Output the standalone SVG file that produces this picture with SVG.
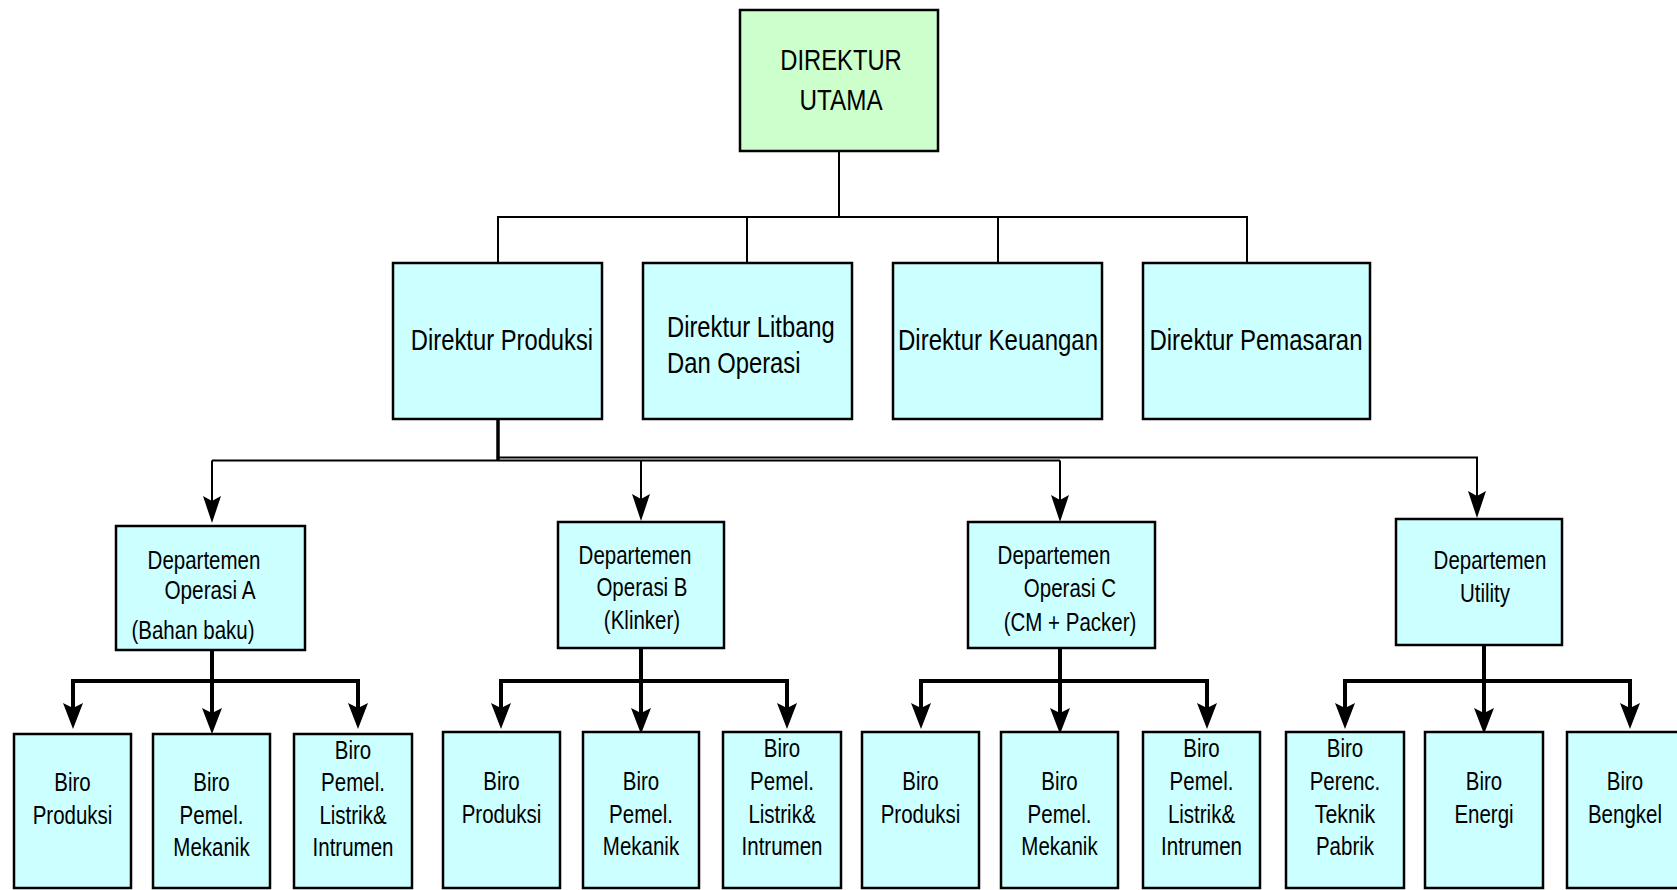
<svg xmlns="http://www.w3.org/2000/svg" width="1677" height="890" viewBox="0 0 1677 890">
<style>
.box{fill:#ccffff;stroke:#000;stroke-width:2.5}
.green{fill:#ccffcc}
text{font-family:"Liberation Sans",Arial,sans-serif;fill:#000}
.t29{font-size:29px}
.t25{font-size:25px}
.c{text-anchor:middle}
.thin{stroke:#000;stroke-width:2;fill:none}
.thick{stroke:#000;stroke-width:4;fill:none;stroke-linejoin:miter}
</style>
<defs>
<marker id="ah" markerUnits="userSpaceOnUse" markerWidth="32" markerHeight="24" viewBox="-28 -12 32 24" refX="-6" refY="0" orient="auto">
<path d="M0,0 L-27,-9 L-22,0 L-27,9 Z" fill="#000"/>
</marker>
<marker id="ahb" markerUnits="userSpaceOnUse" markerWidth="32" markerHeight="26" viewBox="-28 -13 32 26" refX="-6" refY="0" orient="auto">
<path d="M0,0 L-26,-10 L-21,0 L-26,10 Z" fill="#000"/>
</marker>
</defs>

<g id="connectors">
<path class="thin" d="M839,152 V217"/>
<path class="thin" d="M498,263 V217 H1247 V263"/>
<path class="thin" d="M747,217 V263"/>
<path class="thin" d="M998,217 V263"/>
<path class="thick" d="M498,416 V461" style="stroke-width:3.5"/>
<path class="thin" d="M212,460.5 H1060" />
<path class="thin" d="M212,460.5 V517" marker-end="url(#ah)"/>
<path class="thin" d="M641,460.5 V515" marker-end="url(#ah)"/>
<path class="thin" d="M1060,460.5 V516" marker-end="url(#ah)"/>
<path class="thin" d="M498,457.5 H1477 V512" marker-end="url(#ah)"/>

<path class="thick" d="M73,723 V681 H358 V723"/>
<path class="thick" d="M73,681 V723" marker-end="url(#ahb)"/>
<path class="thick" d="M358,681 V723" marker-end="url(#ahb)"/>
<path class="thick" d="M212,650 V728" marker-end="url(#ahb)"/>

<path class="thick" d="M501,723 V681 H787 V723"/>
<path class="thick" d="M501,681 V723" marker-end="url(#ahb)"/>
<path class="thick" d="M787,681 V723" marker-end="url(#ahb)"/>
<path class="thick" d="M641,648 V728" marker-end="url(#ahb)"/>

<path class="thick" d="M921,723 V681 H1207 V723"/>
<path class="thick" d="M921,681 V723" marker-end="url(#ahb)"/>
<path class="thick" d="M1207,681 V723" marker-end="url(#ahb)"/>
<path class="thick" d="M1060,648 V728" marker-end="url(#ahb)"/>

<path class="thick" d="M1345,723 V681 H1630 V723"/>
<path class="thick" d="M1345,681 V723" marker-end="url(#ahb)"/>
<path class="thick" d="M1630,681 V723" marker-end="url(#ahb)"/>
<path class="thick" d="M1484,645 V728" marker-end="url(#ahb)"/>
</g>

<g id="direktur-utama">
<rect class="box green" x="740" y="10" width="198" height="141"/>
<text class="t29 c" x="841" y="70" textLength="121.5" lengthAdjust="spacingAndGlyphs">DIREKTUR</text>
<text class="t29 c" x="841" y="110" textLength="83.2" lengthAdjust="spacingAndGlyphs">UTAMA</text>
</g>

<g id="direktur-produksi">
<rect class="box" x="393" y="263" width="209" height="156"/>
<text class="t29 c" x="502" y="350" textLength="182.3" lengthAdjust="spacingAndGlyphs">Direktur Produksi</text>
</g>
<g id="direktur-litbang">
<rect class="box" x="643" y="263" width="209" height="156"/>
<text class="t29" x="667" y="337" textLength="167.8" lengthAdjust="spacingAndGlyphs">Direktur Litbang</text>
<text class="t29" x="667" y="373" textLength="133.5" lengthAdjust="spacingAndGlyphs">Dan Operasi</text>
</g>
<g id="direktur-keuangan">
<rect class="box" x="893" y="263" width="209" height="156"/>
<text class="t29 c" x="998" y="350" textLength="200" lengthAdjust="spacingAndGlyphs">Direktur Keuangan</text>
</g>
<g id="direktur-pemasaran">
<rect class="box" x="1143" y="263" width="227" height="156"/>
<text class="t29 c" x="1256" y="350" textLength="213" lengthAdjust="spacingAndGlyphs">Direktur Pemasaran</text>
</g>

<g id="dept-a">
<rect class="box" x="116" y="526" width="189" height="124"/>
<text class="t25 c" x="204" y="569" textLength="112.8" lengthAdjust="spacingAndGlyphs">Departemen</text>
<text class="t25 c" x="210" y="599" textLength="91.1" lengthAdjust="spacingAndGlyphs">Operasi A</text>
<text class="t25 c" x="193" y="639" textLength="123.1" lengthAdjust="spacingAndGlyphs">(Bahan baku)</text>
</g>
<g id="dept-b">
<rect class="box" x="558" y="522" width="166" height="126"/>
<text class="t25 c" x="635" y="564" textLength="112.8" lengthAdjust="spacingAndGlyphs">Departemen</text>
<text class="t25 c" x="642" y="596" textLength="91.1" lengthAdjust="spacingAndGlyphs">Operasi B</text>
<text class="t25 c" x="642" y="629" textLength="76.3" lengthAdjust="spacingAndGlyphs">(Klinker)</text>
</g>
<g id="dept-c">
<rect class="box" x="968" y="522" width="187" height="126"/>
<text class="t25 c" x="1054" y="564" textLength="112.8" lengthAdjust="spacingAndGlyphs">Departemen</text>
<text class="t25 c" x="1070" y="597" textLength="92.3" lengthAdjust="spacingAndGlyphs">Operasi C</text>
<text class="t25 c" x="1070" y="631" textLength="132.7" lengthAdjust="spacingAndGlyphs">(CM + Packer)</text>
</g>
<g id="dept-utility">
<rect class="box" x="1396" y="519" width="166" height="126"/>
<text class="t25 c" x="1490" y="569" textLength="112.8" lengthAdjust="spacingAndGlyphs">Departemen</text>
<text class="t25 c" x="1485" y="602" textLength="50.1" lengthAdjust="spacingAndGlyphs">Utility</text>
</g>

<g id="a-biro-produksi">
<rect class="box" x="14" y="734" width="117" height="154"/>
<text class="t25 c" x="72.5" y="791" textLength="36.4" lengthAdjust="spacingAndGlyphs">Biro</text>
<text class="t25 c" x="72.5" y="824" textLength="79.7" lengthAdjust="spacingAndGlyphs">Produksi</text>
</g>
<g id="a-biro-mekanik">
<rect class="box" x="153" y="734" width="117" height="154"/>
<text class="t25 c" x="211.5" y="791" textLength="36.4" lengthAdjust="spacingAndGlyphs">Biro</text>
<text class="t25 c" x="211.5" y="824" textLength="63.8" lengthAdjust="spacingAndGlyphs">Pemel.</text>
<text class="t25 c" x="211.5" y="856" textLength="76.3" lengthAdjust="spacingAndGlyphs">Mekanik</text>
</g>
<g id="a-biro-listrik">
<rect class="box" x="294" y="734" width="118" height="154"/>
<text class="t25 c" x="353" y="759" textLength="36.4" lengthAdjust="spacingAndGlyphs">Biro</text>
<text class="t25 c" x="353" y="791" textLength="63.8" lengthAdjust="spacingAndGlyphs">Pemel.</text>
<text class="t25 c" x="353" y="824" textLength="67.2" lengthAdjust="spacingAndGlyphs">Listrik&amp;</text>
<text class="t25 c" x="353" y="856" textLength="80.9" lengthAdjust="spacingAndGlyphs">Intrumen</text>
</g>

<g id="b-biro-produksi">
<rect class="box" x="443" y="732" width="117" height="156"/>
<text class="t25 c" x="501.5" y="790" textLength="36.4" lengthAdjust="spacingAndGlyphs">Biro</text>
<text class="t25 c" x="501.5" y="823" textLength="79.7" lengthAdjust="spacingAndGlyphs">Produksi</text>
</g>
<g id="b-biro-mekanik">
<rect class="box" x="583" y="732" width="116" height="156"/>
<text class="t25 c" x="641" y="790" textLength="36.4" lengthAdjust="spacingAndGlyphs">Biro</text>
<text class="t25 c" x="641" y="823" textLength="63.8" lengthAdjust="spacingAndGlyphs">Pemel.</text>
<text class="t25 c" x="641" y="855" textLength="76.3" lengthAdjust="spacingAndGlyphs">Mekanik</text>
</g>
<g id="b-biro-listrik">
<rect class="box" x="723" y="732" width="118" height="156"/>
<text class="t25 c" x="782" y="757" textLength="36.4" lengthAdjust="spacingAndGlyphs">Biro</text>
<text class="t25 c" x="782" y="790" textLength="63.8" lengthAdjust="spacingAndGlyphs">Pemel.</text>
<text class="t25 c" x="782" y="823" textLength="67.2" lengthAdjust="spacingAndGlyphs">Listrik&amp;</text>
<text class="t25 c" x="782" y="855" textLength="80.9" lengthAdjust="spacingAndGlyphs">Intrumen</text>
</g>

<g id="c-biro-produksi">
<rect class="box" x="862" y="732" width="117" height="156"/>
<text class="t25 c" x="920.5" y="790" textLength="36.4" lengthAdjust="spacingAndGlyphs">Biro</text>
<text class="t25 c" x="920.5" y="823" textLength="79.7" lengthAdjust="spacingAndGlyphs">Produksi</text>
</g>
<g id="c-biro-mekanik">
<rect class="box" x="1001" y="732" width="117" height="156"/>
<text class="t25 c" x="1059.5" y="790" textLength="36.4" lengthAdjust="spacingAndGlyphs">Biro</text>
<text class="t25 c" x="1059.5" y="823" textLength="63.8" lengthAdjust="spacingAndGlyphs">Pemel.</text>
<text class="t25 c" x="1059.5" y="855" textLength="76.3" lengthAdjust="spacingAndGlyphs">Mekanik</text>
</g>
<g id="c-biro-listrik">
<rect class="box" x="1143" y="732" width="117" height="156"/>
<text class="t25 c" x="1201.5" y="757" textLength="36.4" lengthAdjust="spacingAndGlyphs">Biro</text>
<text class="t25 c" x="1201.5" y="790" textLength="63.8" lengthAdjust="spacingAndGlyphs">Pemel.</text>
<text class="t25 c" x="1201.5" y="823" textLength="67.2" lengthAdjust="spacingAndGlyphs">Listrik&amp;</text>
<text class="t25 c" x="1201.5" y="855" textLength="80.9" lengthAdjust="spacingAndGlyphs">Intrumen</text>
</g>

<g id="u-biro-perenc">
<rect class="box" x="1286" y="732" width="118" height="156"/>
<text class="t25 c" x="1345" y="757" textLength="36.4" lengthAdjust="spacingAndGlyphs">Biro</text>
<text class="t25 c" x="1345" y="790" textLength="70.6" lengthAdjust="spacingAndGlyphs">Perenc.</text>
<text class="t25 c" x="1345" y="823" textLength="60.4" lengthAdjust="spacingAndGlyphs">Teknik</text>
<text class="t25 c" x="1345" y="855" textLength="58.1" lengthAdjust="spacingAndGlyphs">Pabrik</text>
</g>
<g id="u-biro-energi">
<rect class="box" x="1425" y="732" width="118" height="156"/>
<text class="t25 c" x="1484" y="790" textLength="36.4" lengthAdjust="spacingAndGlyphs">Biro</text>
<text class="t25 c" x="1484" y="823" textLength="59.2" lengthAdjust="spacingAndGlyphs">Energi</text>
</g>
<g id="u-biro-bengkel">
<rect class="box" x="1567" y="732" width="120" height="156"/>
<text class="t25 c" x="1625" y="790" textLength="36.4" lengthAdjust="spacingAndGlyphs">Biro</text>
<text class="t25 c" x="1625" y="823" textLength="74.1" lengthAdjust="spacingAndGlyphs">Bengkel</text>
</g>
</svg>
